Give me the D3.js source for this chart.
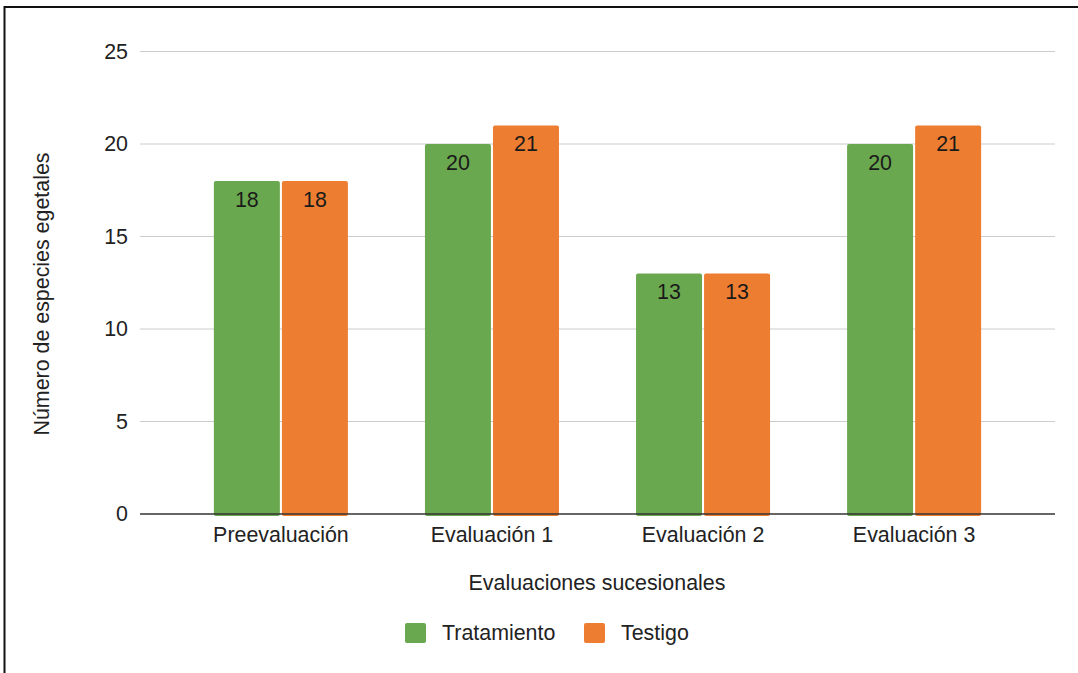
<!DOCTYPE html>
<html>
<head>
<meta charset="utf-8">
<script src="https://cdn.jsdelivr.net/npm/d3@7"></script>
<style>
  body { margin: 0; background: #fff; }
  text { font-family: "Liberation Sans", Arial, sans-serif; }
</style>
</head>
<body>
<div id="chart"></div>
<script>
// data
var categories = ["Preevaluación", "Evaluación 1", "Evaluación 2", "Evaluación 3"];
var seriesNames = ["Tratamiento", "Testigo"];
var tratamiento = [18, 20, 13, 20];
var testigo = [18, 21, 13, 21];
var yTicks = [0, 5, 10, 15, 20, 25];
var colors = ["#6aa84f", "#ed7d31"];

var containerWidth = 1078,
    containerHeight = 673,
    fontSize = 21.4,
    plot = { left: 140, right: 1055, top: 51.5, bottom: 514 };

var svg = d3.select("#chart")
    .append("svg")
    .attr("width", containerWidth)
    .attr("height", containerHeight);

// outer frame
svg.append("rect")
    .attr("x", 4.5).attr("y", 7)
    .attr("width", 1100).attr("height", 700)
    .attr("fill", "none")
    .attr("stroke", "#111")
    .attr("stroke-width", 2);

var y = d3.scaleLinear().domain([0, 25]).range([plot.bottom, plot.top]);

var x = d3.scaleBand()
    .domain(categories)
    .range([plot.left, plot.right])
    .paddingInner(0.365)
    .paddingOuter(0.35);

var xs = d3.scaleBand()
    .domain(seriesNames)
    .range([0, x.bandwidth()])
    .paddingInner(0.03);

// gridlines
svg.append("g")
    .selectAll("line")
    .data(yTicks.filter(function(d) { return d > 0; }))
    .join("line")
    .attr("x1", plot.left).attr("x2", plot.right)
    .attr("y1", function(d) { return y(d); })
    .attr("y2", function(d) { return y(d); })
    .attr("stroke", "#cccccc")
    .attr("stroke-width", 1);

// y axis labels
var yAxis = d3.axisLeft(y).tickValues(yTicks).tickSize(0).tickPadding(12);
var yg = svg.append("g")
    .attr("transform", "translate(" + plot.left + ",0)")
    .call(yAxis);
yg.select(".domain").remove();
yg.selectAll("text")
    .attr("font-size", fontSize)
    .attr("fill", "#222")
    .style("font-family", "'Liberation Sans', Arial, sans-serif");

// bars
var rows = categories.map(function(c, i) {
    return { cat: c, values: [tratamiento[i], testigo[i]] };
});

var groups = svg.append("g")
    .selectAll("g")
    .data(rows)
    .join("g")
    .attr("transform", function(d) { return "translate(" + x(d.cat) + ",0)"; });

function bars(d) {
    return d.values.map(function(v, i) { return { name: seriesNames[i], v: v, i: i }; });
}

groups.selectAll("rect")
    .data(bars)
    .join("rect")
    .attr("x", function(d) { return xs(d.name); })
    .attr("y", function(d) { return y(d.v); })
    .attr("width", xs.bandwidth())
    .attr("height", function(d) { return y(0) - y(d.v) + 2; })
    .attr("rx", 2)
    .attr("fill", function(d) { return colors[d.i]; });

groups.selectAll("text.val")
    .data(bars)
    .join("text")
    .attr("class", "val")
    .attr("x", function(d) { return xs(d.name) + xs.bandwidth() / 2; })
    .attr("y", function(d) { return y(d.v) + 25.5; })
    .attr("text-anchor", "middle")
    .attr("font-size", fontSize)
    .attr("fill", "#1a1a1a")
    .text(function(d) { return d.v; });

// x axis
var xAxis = d3.axisBottom(x).tickSize(0).tickPadding(13);
var xg = svg.append("g")
    .attr("transform", "translate(0," + plot.bottom + ")")
    .call(xAxis);
xg.select(".domain").remove();
xg.selectAll("text")
    .attr("font-size", fontSize)
    .attr("fill", "#222")
    .style("font-family", "'Liberation Sans', Arial, sans-serif");

svg.append("line")
    .attr("x1", plot.left).attr("x2", plot.right)
    .attr("y1", plot.bottom).attr("y2", plot.bottom)
    .attr("stroke", "#333")
    .attr("stroke-width", 1.5);

// axis titles
svg.append("text")
    .attr("x", 597).attr("y", 590)
    .attr("text-anchor", "middle")
    .attr("font-size", fontSize)
    .attr("fill", "#222")
    .text("Evaluaciones sucesionales");

svg.append("text")
    .attr("transform", "translate(49,294) rotate(-90)")
    .attr("text-anchor", "middle")
    .attr("font-size", fontSize)
    .attr("fill", "#222")
    .text("Número de especies egetales");

// legend
var legendX = [405, 584];
var legend = svg.append("g")
    .selectAll("g")
    .data(seriesNames)
    .join("g")
    .attr("transform", function(d, i) { return "translate(" + legendX[i] + ",623)"; });

legend.append("rect")
    .attr("width", 21).attr("height", 20)
    .attr("rx", 2)
    .attr("fill", function(d, i) { return colors[i]; });

legend.append("text")
    .attr("x", 37).attr("y", 17)
    .attr("font-size", fontSize)
    .attr("fill", "#222")
    .text(function(d) { return d; });
</script>
</body>
</html>
